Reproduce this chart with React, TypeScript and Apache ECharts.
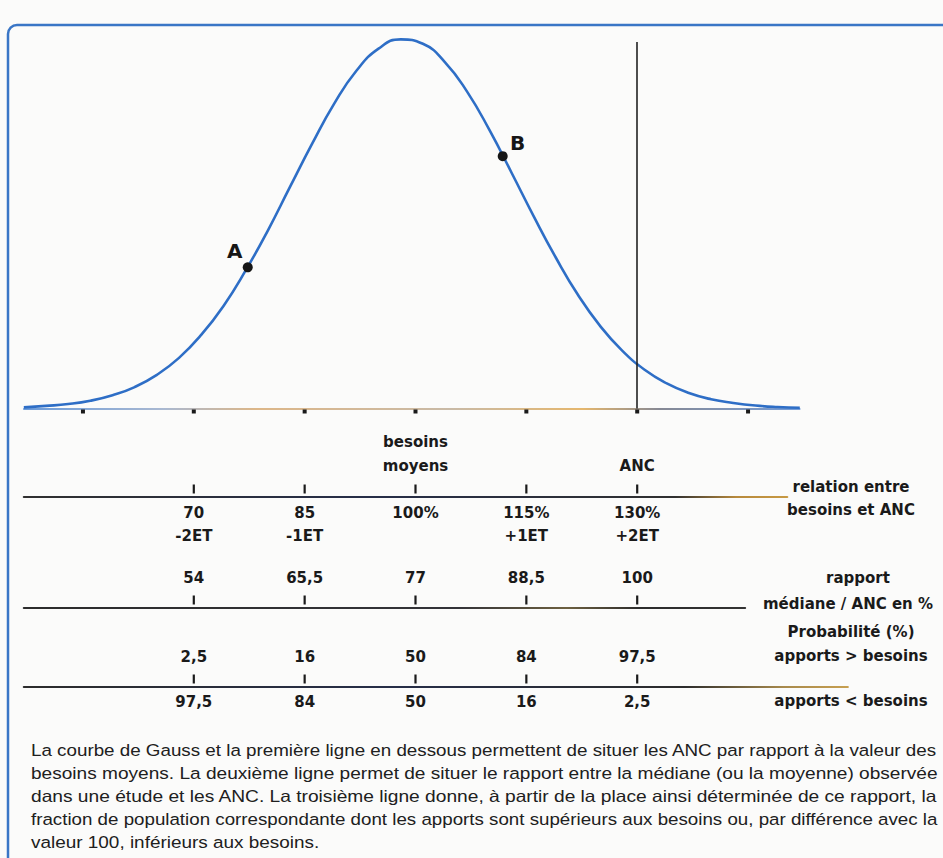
import React, { useEffect, useRef } from "react";
import * as echarts from "echarts";

// ---- Data ----
// Gauss curve (x in % of mean needs, y in % of peak height)
const curveX = [47, 50, 53, 56, 59, 62, 65, 68, 71, 74, 77, 80, 83, 86, 89, 92, 95, 98, 101, 104, 107, 110, 113, 116, 119, 122, 125, 128, 131, 134, 137, 140, 143, 146, 149, 152];
const curveY = [0.3, 0.7, 1.2, 2.1, 3.6, 5.8, 9.1, 13.7, 19.9, 27.7, 37.3, 48.1, 59.9, 71.6, 82.5, 91.4, 97.4, 99.9, 98.7, 93.7, 85.7, 75.4, 63.8, 52.0, 40.8, 30.7, 22.3, 15.6, 10.5, 6.8, 4.2, 2.5, 1.5, 0.8, 0.4, 0.2];
const gaussTicks = [55, 70, 85, 100, 115, 130, 145];
const pointNames = ["A", "B"];
const pointX = [77.3, 111.8];
const pointY = [38.2, 68.3];
const ancValue = 130;
const ancLineTop = 99.2;

// Scales
const scaleValues = [70, 85, 100, 115, 130];
const relationAboveValues = [100, 130];
const relationAboveLabels = ["besoins\nmoyens", "ANC"];
const relationPct = ["70", "85", "100%", "115%", "130%"];
const relationET = ["-2ET", "-1ET", "", "+1ET", "+2ET"];
const ratioLabels = ["54", "65,5", "77", "88,5", "100"];
const probAbove = ["2,5", "16", "50", "84", "97,5"];
const probBelow = ["97,5", "84", "50", "16", "2,5"];

const sideLabels = [
  { text: "relation entre", x: 851, y: 487 },
  { text: "besoins et ANC", x: 851, y: 510 },
  { text: "rapport", x: 858, y: 578 },
  { text: "médiane / ANC en %", x: 848, y: 604 },
  { text: "Probabilité (%)", x: 851, y: 632 },
  { text: "apports > besoins", x: 851, y: 656 },
  { text: "apports < besoins", x: 851, y: 701 },
];

const captionLines = [
  "La courbe de Gauss et la première ligne en dessous permettent de situer les ANC par rapport à la valeur des",
  "besoins moyens. La deuxième ligne permet de situer le rapport entre la médiane (ou la moyenne) observée",
  "dans une étude et les ANC. La troisième ligne donne, à partir de la place ainsi déterminée de ce rapport, la",
  "fraction de population correspondante dont les apports sont supérieurs aux besoins ou, par différence avec la",
  "valeur 100, inférieurs aux besoins.",
];

// ---- Layout ----
const PX = 7.39;
const X_MIN = 47;
const LEFT = 415.5 - (100 - X_MIN) * PX;
const LABEL_FONT = "'DejaVu Sans', 'Liberation Sans', sans-serif";
const CAPTION_FONT_FAMILY = "'Liberation Sans', Arial, sans-serif";
const CAPTION_SIZE = 16.5;
const INK = "#1a1a1a";

export default function App() {
  const ref = useRef<HTMLDivElement>(null);

  useEffect(() => {
    if (!ref.current) return;
    const chart = echarts.init(ref.current, undefined, { renderer: "svg" });

    const canvas = document.createElement("canvas");
    const ctx = canvas.getContext("2d")!;
    ctx.font = `${CAPTION_SIZE}px ${CAPTION_FONT_FAMILY}`;
    const widths = captionLines.map((l) => ctx.measureText(l).width);
    const target = 907;
    const scales = widths.map((w) => target / w);
    const avgScale = (scales[0] + scales[1] + scales[2] + scales[3]) / 4;

    const G = (stops: [number, string][], x0: number, x1: number) =>
      new echarts.graphic.LinearGradient(x0, 0, x1, 0, stops.map(([offset, color]) => ({ offset, color })), true);

    const scaleGrid = (lineY: number, xMax: number) => ({
      left: LEFT,
      top: lineY - 20,
      width: (xMax - X_MIN) * PX,
      height: 20,
    });
    const gridDefs = [
      { left: LEFT, top: 39, width: (152 - X_MIN) * PX, height: 369.5 },
      scaleGrid(497, 150.3),
      scaleGrid(608, 144.6),
      scaleGrid(687, 158.5),
    ];
    const xMaxes = [152, 150.3, 144.6, 158.5];
    const lineColors = [
      G([[0, "#3c7cd0"], [0.18, "#8fa3c4"], [0.3, "#d3a062"], [0.55, "#b8a48a"], [0.72, "#dea03e"], [0.82, "#5e6272"], [1, "#4a80d0"]], LEFT, LEFT + 776),
      G([[0, "#303030"], [0.45, "#262e48"], [0.85, "#303030"], [0.93, "#b88a3c"], [1, "#c89a44"]], LEFT, 790),
      G([[0, "#2c2c2c"], [0.6, "#333338"], [0.75, "#6d6040"], [0.85, "#2c2c2c"], [1, "#333333"]], LEFT, 748),
      G([[0, "#2c2c2c"], [0.45, "#262e48"], [0.8, "#2c2c2c"], [0.92, "#a88a4c"], [1, "#c8a050"]], LEFT, 850),
    ];

    const labelStyle = {
      fontFamily: LABEL_FONT,
      fontWeight: "bold" as const,
      fontSize: 15,
      color: INK,
    };

    const tickSeries = (idx: number, values: number[]) => ({
      type: "scatter",
      xAxisIndex: idx,
      yAxisIndex: idx,
      data: values.map((v) => [v, 0]),
      symbol: "rect",
      symbolSize: [2.2, 9],
      symbolOffset: [0, -8],
      itemStyle: { color: INK, opacity: 1 },
      silent: true,
      z: 3,
    });
    const labelSeries = (
      idx: number,
      values: number[],
      labels: string[],
      position: "top" | "bottom",
      distance: number,
      lineHeight: number
    ) => ({
      type: "scatter",
      xAxisIndex: idx,
      yAxisIndex: idx,
      data: values.map((v) => [v, 0]),
      symbolSize: 1,
      itemStyle: { color: "rgba(0,0,0,0)", opacity: 1 },
      silent: true,
      label: {
        show: true,
        position,
        distance,
        lineHeight,
        align: "center",
        formatter: (p: any) => labels[p.dataIndex],
        ...labelStyle,
      },
      z: 4,
    });

    const relationLabels = relationPct.map((p, i) => (relationET[i] ? `${p}\n${relationET[i]}` : p));

    const graphics: any[] = [
      {
        type: "rect",
        shape: { x: 8, y: 25, width: 1000, height: 900, r: 9 },
        style: { fill: "none", stroke: "#3a76c6", lineWidth: 2.5 },
        silent: true,
        z: 0,
      },
      ...sideLabels.map((s) => ({
        type: "text",
        x: s.x,
        y: s.y,
        style: {
          text: s.text,
          fontFamily: LABEL_FONT,
          fontWeight: "bold",
          fontSize: 15,
          fill: INK,
          align: "center",
          textAlign: "center",
          verticalAlign: "middle",
          textVerticalAlign: "middle",
        },
        silent: true,
      })),
      ...captionLines.map((t, i) => ({
        type: "text",
        x: 31,
        y: 750 + i * 23,
        scaleX: i < 4 ? scales[i] : avgScale,
        style: {
          text: t,
          fontFamily: CAPTION_FONT_FAMILY,
          fontSize: CAPTION_SIZE,
          fill: "#202020",
          align: "left",
          textAlign: "left",
          verticalAlign: "middle",
          textVerticalAlign: "middle",
        },
        silent: true,
      })),
    ];

    chart.setOption({
      animation: false,
      backgroundColor: "#fbfbfa",
      grid: gridDefs,
      xAxis: gridDefs.map((_, i) => ({
        gridIndex: i,
        type: "value",
        min: X_MIN,
        max: xMaxes[i],
        axisLabel: { show: false },
        axisTick: { show: false },
        splitLine: { show: false },
        axisLine: { show: true, onZero: false, lineStyle: { color: lineColors[i], width: i === 0 ? 1.6 : 2.2 } },
      })),
      yAxis: gridDefs.map((_, i) => ({
        gridIndex: i,
        type: "value",
        min: 0,
        max: i === 0 ? 100 : 1,
        show: false,
      })),
      graphic: graphics,
      series: [
        {
          type: "line",
          xAxisIndex: 0,
          yAxisIndex: 0,
          data: curveX.map((x, i) => [x, curveY[i]]),
          smooth: true,
          symbol: "none",
          clip: false,
          lineStyle: { color: "#2e6ec6", width: 2.6 },
          z: 3,
          markLine: {
            silent: true,
            symbol: ["none", "none"],
            label: { show: false },
            lineStyle: { color: "#222222", width: 1.6, type: "solid" },
            data: [[{ coord: [ancValue, 0] }, { coord: [ancValue, ancLineTop] }]],
          },
        },
        {
          type: "scatter",
          xAxisIndex: 0,
          yAxisIndex: 0,
          data: gaussTicks.map((v) => [v, 0]),
          symbol: "rect",
          symbolSize: [4, 4],
          symbolOffset: [0, 3],
          itemStyle: { color: INK, opacity: 1 },
          silent: true,
          z: 4,
        },
        {
          type: "scatter",
          xAxisIndex: 0,
          yAxisIndex: 0,
          data: pointX.map((x, i) => ({
            value: [x, pointY[i]],
            name: pointNames[i],
            label: { offset: i === 0 ? [-13, -16] : [15, -13] },
          })),
          symbolSize: 10,
          itemStyle: { color: "#161616", opacity: 1 },
          silent: true,
          z: 5,
          label: {
            show: true,
            position: "inside",
            formatter: (p: any) => p.name,
            fontFamily: LABEL_FONT,
            fontWeight: "bold",
            fontSize: 20,
            color: "#161616",
          },
        },
        // scale 1: relation besoins / ANC
        tickSeries(1, scaleValues),
        labelSeries(1, relationAboveValues, relationAboveLabels, "top", 19, 24),
        labelSeries(1, scaleValues, relationLabels, "bottom", 4, 23),
        // scale 2: rapport médiane / ANC
        tickSeries(2, scaleValues),
        labelSeries(2, scaleValues, ratioLabels, "top", 20, 20),
        // scale 3: probabilités
        tickSeries(3, scaleValues),
        labelSeries(3, scaleValues, probAbove, "top", 20, 20),
        labelSeries(3, scaleValues, probBelow, "bottom", 4, 20),
      ],
    });

    return () => chart.dispose();
  }, []);

  return (
    <div
      ref={ref}
      style={{ position: "fixed", left: 0, top: 0, width: 943, height: 858 }}
    />
  );
}
